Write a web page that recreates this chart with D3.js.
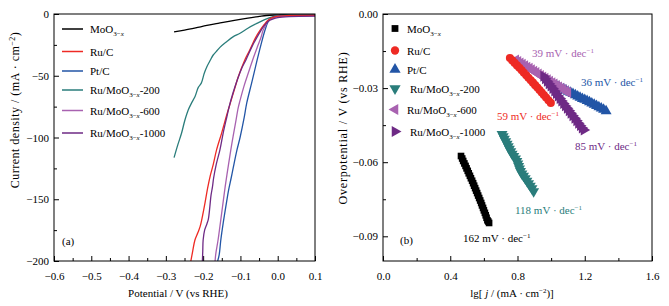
<!DOCTYPE html>
<html><head><meta charset="utf-8">
<script src="https://cdn.jsdelivr.net/npm/d3@7"></script>
<style>
body{margin:0;background:#fff;}
text{font-family:"Liberation Serif","Times New Roman",serif;}
</style></head>
<body><svg id="c" width="669" height="306"></svg>
<script>
// ---------- DATA ----------
// Panel (a): LSV curves, potential (V vs RHE) and current density (mA cm^-2)
const seriesNames = ["MoO3-x", "Ru/C", "Pt/C", "Ru/MoO3-x-200", "Ru/MoO3-x-600", "Ru/MoO3-x-1000"];
const seriesColors = ["#000000", "#ee2a24", "#2255a6", "#2a7d7b", "#a862b0", "#6e2a85"];

const moV = [-0.278,-0.25,-0.22,-0.19,-0.16,-0.12,-0.08,-0.05,-0.03,-0.01,0.02,0.05,0.1];
const moJ = [-14.5,-13.0,-11.2,-9.3,-7.6,-5.3,-3.3,-2.0,-1.2,-0.8,-0.5,-0.4,-0.4];

const rucV = [-0.233,-0.228,-0.222,-0.214,-0.208,-0.202,-0.195,-0.188,-0.181,-0.173,-0.164,-0.150,-0.137,-0.128,-0.115,-0.106,-0.088,-0.074,-0.060,-0.048,-0.036,-0.026,-0.015,0.0,0.03,0.1];
const rucJ = [-200,-192,-183,-177,-172,-164,-153,-141,-131,-122,-110,-96,-82,-73,-60,-51,-37,-28.5,-19.5,-13.5,-8.5,-5,-3,-1.8,-1.2,-1.0];

const ptV = [-0.161,-0.157,-0.153,-0.150,-0.143,-0.137,-0.132,-0.125,-0.119,-0.110,-0.101,-0.090,-0.083,-0.070,-0.055,-0.045,-0.034,-0.026,-0.018,-0.005,0.03,0.1];
const ptJ = [-200,-195,-184,-177,-163,-152,-143,-133,-124,-111,-100,-84,-72,-56,-37,-25,-13,-6.5,-3.5,-1.8,-1.2,-1.0];

const r200V = [-0.278,-0.268,-0.258,-0.249,-0.240,-0.231,-0.222,-0.213,-0.205,-0.197,-0.190,-0.181,-0.173,-0.165,-0.155,-0.137,-0.120,-0.101,-0.080,-0.056,-0.035,-0.012,0.01,0.03,0.06,0.1];
const r200J = [-116.3,-106,-96.6,-86,-77.7,-72,-67,-59.4,-56,-48,-42.7,-37.5,-33.2,-30.5,-27,-22.4,-18.5,-15.6,-11.5,-7.6,-4.5,-2.2,-1.2,-0.7,-0.5,-0.5];

const r600V = [-0.168,-0.166,-0.160,-0.155,-0.148,-0.141,-0.132,-0.123,-0.113,-0.106,-0.101,-0.090,-0.078,-0.067,-0.055,-0.045,-0.039,-0.032,-0.026,-0.015,0.0,0.03,0.1];
const r600J = [-200,-194,-183,-172,-156,-140,-122,-105,-88,-76,-70,-58,-47,-37,-27,-19,-13,-9,-5.5,-3.5,-2.2,-1.6,-1.4];

const r1000V = [-0.202,-0.201,-0.200,-0.196,-0.190,-0.186,-0.182,-0.179,-0.175,-0.172,-0.165,-0.155,-0.146,-0.137,-0.131,-0.120,-0.108,-0.095,-0.085,-0.070,-0.055,-0.040,-0.026,-0.012,0.0,0.03,0.1];
const r1000J = [-200,-192,-183,-175,-170,-166,-156,-147,-140,-133,-122,-110,-96,-84,-76,-64,-53,-43,-37,-27,-18.5,-11,-6,-4,-3,-2.2,-1.8];

// Panel (b): Tafel points, lg[j/(mA cm^-2)] and overpotential (V)
const tMoLg = [0.464,0.471,0.477,0.484,0.491,0.497,0.504,0.510,0.517,0.523,0.530,0.536,0.542,0.548,0.554,0.560,0.566,0.572,0.578,0.584,0.589,0.595,0.600,0.606,0.611,0.616,0.621,0.626,0.631];
const tMoEta = [-0.0575,-0.0585,-0.0595,-0.0605,-0.0615,-0.0625,-0.0635,-0.0645,-0.0655,-0.0665,-0.0675,-0.0685,-0.0695,-0.0705,-0.0715,-0.0725,-0.0735,-0.0745,-0.0755,-0.0765,-0.0775,-0.0785,-0.0795,-0.0805,-0.0815,-0.0825,-0.0835,-0.0840,-0.0846];

const tRucLg = [0.755,0.769,0.783,0.797,0.811,0.825,0.838,0.852,0.865,0.879,0.892,0.905,0.918,0.931,0.944,0.957,0.970,0.984,0.998];
const tRucEta = [-0.0178,-0.0188,-0.0198,-0.0208,-0.0218,-0.0228,-0.0238,-0.0248,-0.0258,-0.0268,-0.0278,-0.0288,-0.0298,-0.0308,-0.0318,-0.0328,-0.0338,-0.0349,-0.0360];

const tPtLg = [0.990,1.004,1.018,1.032,1.046,1.060,1.074,1.088,1.102,1.116,1.130,1.144,1.158,1.172,1.186,1.200,1.214,1.228,1.242,1.256,1.270,1.284,1.298,1.312,1.327];
const tPtEta = [-0.0275,-0.0280,-0.0285,-0.0290,-0.0295,-0.0300,-0.0304,-0.0309,-0.0314,-0.0318,-0.0323,-0.0328,-0.0333,-0.0338,-0.0343,-0.0347,-0.0352,-0.0357,-0.0362,-0.0367,-0.0372,-0.0377,-0.0382,-0.0387,-0.0393];

const t200Lg = [0.708,0.715,0.722,0.730,0.738,0.745,0.752,0.760,0.768,0.778,0.788,0.796,0.802,0.807,0.812,0.818,0.826,0.836,0.846,0.856,0.866,0.876,0.886,0.896];
const t200Eta = [-0.0486,-0.0496,-0.0506,-0.0516,-0.0526,-0.0536,-0.0546,-0.0556,-0.0566,-0.0576,-0.0586,-0.0596,-0.0606,-0.0616,-0.0626,-0.0636,-0.0646,-0.0656,-0.0666,-0.0676,-0.0686,-0.0696,-0.0706,-0.0718];

const t600Lg = [0.790,0.803,0.817,0.830,0.844,0.857,0.871,0.884,0.898,0.911,0.925,0.938,0.952,0.965,0.979,0.992,1.006,1.019,1.033,1.046,1.060,1.073,1.087,1.100];
const t600Eta = [-0.0186,-0.0192,-0.0198,-0.0203,-0.0209,-0.0215,-0.0220,-0.0226,-0.0232,-0.0237,-0.0243,-0.0249,-0.0255,-0.0260,-0.0266,-0.0272,-0.0278,-0.0283,-0.0289,-0.0295,-0.0301,-0.0306,-0.0312,-0.0318];

const t1000Lg = [0.955,0.965,0.976,0.987,0.998,1.009,1.020,1.030,1.041,1.052,1.062,1.073,1.084,1.095,1.106,1.117,1.128,1.140,1.151,1.162,1.173,1.184,1.195];
const t1000Eta = [-0.0252,-0.0262,-0.0272,-0.0282,-0.0292,-0.0302,-0.0312,-0.0322,-0.0332,-0.0342,-0.0352,-0.0362,-0.0372,-0.0382,-0.0392,-0.0402,-0.0412,-0.0422,-0.0432,-0.0442,-0.0452,-0.0462,-0.0470];

const slopeLabels = ["162", "59", "36", "118", "39", "85"];

const xTicksA = [-0.6,-0.5,-0.4,-0.3,-0.2,-0.1,0.0,0.1];
const yTicksA = [-200,-150,-100,-50,0];
const xTicksB = [0.0,0.4,0.8,1.2,1.6];
const yTicksB = [-0.09,-0.06,-0.03,0.00];

// ---------- DRAW ----------
const svg = d3.select("#c");
const FS = 11;

const xA = d3.scaleLinear([-0.6,0.1],[54,315]);
const yA = d3.scaleLinear([-200,0],[261,14]);
const xB = d3.scaleLinear([0,1.6],[383,652]);
const yB = d3.scaleLinear([-0.10,0],[261,14]);

function drawAxes(x, y, xt, yt, xMinor, yMinor, xf, yf){
  svg.append("g").attr("transform",`translate(0,${y.range()[0]})`)
    .call(d3.axisBottom(x).tickValues(xt).tickFormat(xf).tickSize(-5).tickPadding(11));
  svg.append("g").attr("transform",`translate(0,${y.range()[0]})`)
    .call(d3.axisBottom(x).tickValues(xMinor).tickFormat("").tickSize(-3));
  svg.append("g").attr("transform",`translate(${x.range()[0]},0)`)
    .call(d3.axisLeft(y).tickValues(yt).tickFormat(yf).tickSize(-5).tickPadding(5));
  svg.append("g").attr("transform",`translate(${x.range()[0]},0)`)
    .call(d3.axisLeft(y).tickValues(yMinor).tickFormat("").tickSize(-3));
  svg.selectAll(".domain").remove();
  svg.selectAll(".tick text").attr("font-size",FS).attr("font-family","Liberation Serif").attr("fill","#000");
  svg.selectAll(".tick line").attr("stroke","#000");
}

// Panel a
drawAxes(xA, yA, xTicksA, yTicksA, [-0.55,-0.45,-0.35,-0.25,-0.15,-0.05,0.05],
  [-175,-125,-75,-25], d3.format(".1f"), d3.format("d"));
// Panel b
drawAxes(xB, yB, xTicksB, yTicksB, [0.2,0.6,1.0,1.4],
  [-0.075,-0.045,-0.015], d3.format(".1f"), d3.format(".2f"));

// clip for panel a
svg.append("clipPath").attr("id","clipA").append("rect")
  .attr("x",54).attr("y",14).attr("width",261).attr("height",247);

const curves = [[moV,moJ],[rucV,rucJ],[ptV,ptJ],[r200V,r200J],[r600V,r600J],[r1000V,r1000J]];
const line = d3.line().x(d=>xA(d[0])).y(d=>yA(d[1])).curve(d3.curveCatmullRom);
const drawOrderA = [0,3,2,4,1,5];
drawOrderA.forEach(i=>{
  const pts = curves[i][0].map((v,k)=>[v,curves[i][1][k]]);
  svg.append("path").attr("d",line(pts)).attr("fill","none")
    .attr("stroke",seriesColors[i]).attr("stroke-width",1.3).attr("clip-path","url(#clipA)");
});

// Tafel markers
const tafel = [[tMoLg,tMoEta],[tRucLg,tRucEta],[tPtLg,tPtEta],[t200Lg,t200Eta],[t600Lg,t600Eta],[t1000Lg,t1000Eta]];
const symTypes = [d3.symbolSquare, d3.symbolCircle, d3.symbolTriangle, d3.symbolTriangle, d3.symbolTriangle, d3.symbolTriangle];
const symRot = [0,0,0,180,-90,90];
const symSize = [44,52,52,52,52,52];
function marker(g, i, cx, cy, scale){
  g.append("path").attr("d", d3.symbol(symTypes[i], symSize[i]*(scale||1))())
    .attr("transform",`translate(${cx},${cy}) rotate(${symRot[i]})`)
    .attr("fill",seriesColors[i]);
}
const drawOrderB = [0,2,3,4,5,1];
const gB = svg.append("g");
drawOrderB.forEach(i=>{
  tafel[i][0].forEach((lg,k)=>marker(gB, i, xB(lg), yB(tafel[i][1][k])));
});

// frames
[[xA,yA],[xB,yB]].forEach(([x,y])=>{
  svg.append("rect").attr("x",x.range()[0]).attr("y",y.range()[1])
    .attr("width",x.range()[1]-x.range()[0]).attr("height",y.range()[0]-y.range()[1])
    .attr("fill","none").attr("stroke","#000").attr("stroke-width",1);
});

// legend label helper
function legendText(g, x, y, i, color){
  const t = g.append("text").attr("x",x).attr("y",y).attr("font-size",FS).attr("fill",color||"#000");
  const name = seriesNames[i];
  if(name.indexOf("MoO3-x")>=0){
    const pre = name.split("MoO3-x")[0];
    const post = name.split("MoO3-x")[1];
    t.append("tspan").text(pre+"MoO");
    t.append("tspan").attr("dy",3).attr("font-size",7).text("3−");
    t.append("tspan").attr("font-size",7).attr("font-style","italic").text("x");
    t.append("tspan").attr("dy",-3).text(post);
  } else t.text(name);
}

// Legend a
const legA = [29,51.5,71,90,110.5,133];
legA.forEach((yy,i)=>{
  svg.append("line").attr("x1",62).attr("x2",83).attr("y1",yy).attr("y2",yy)
    .attr("stroke",seriesColors[i]).attr("stroke-width",1.5);
  legendText(svg, 90, yy+4, i);
});
// Legend b
const legB = [28.5,50.5,69.5,88.5,109.5,131.5];
const legBx = [407,407,407,410,407,410];
legB.forEach((yy,i)=>{
  marker(svg, i, 395, yy, 1.05);
  legendText(svg, legBx[i], yy+4, i);
});

// slope labels
const slopePos = [[463,242],[497,120],[581,85.5],[515,214],[532,56.5],[575,149.5]];
slopeLabels.forEach((s,i)=>{
  const t = svg.append("text").attr("x",slopePos[i][0]).attr("y",slopePos[i][1])
    .attr("font-size",FS).attr("fill",seriesColors[i]);
  t.append("tspan").text(s+" mV · dec");
  t.append("tspan").attr("dy",-4).attr("font-size",7).text("−1");
});

// panel tags
svg.append("text").attr("x",62).attr("y",245).attr("font-size",FS).text("(a)");
svg.append("text").attr("x",400).attr("y",244).attr("font-size",FS).text("(b)");

// axis titles
svg.append("text").attr("x",178).attr("y",297).attr("text-anchor","middle").attr("font-size",FS)
  .text("Potential / V (vs RHE)");
const yt = svg.append("text").attr("transform","translate(19,110) rotate(-90)")
  .attr("text-anchor","middle").attr("font-size",12).attr("letter-spacing",0.5);
yt.append("tspan").text("Current density / (mA · cm");
yt.append("tspan").attr("dy",-4).attr("font-size",8).text("−2");
yt.append("tspan").attr("dy",4).text(")");

const xtB = svg.append("text").attr("x",512).attr("y",297).attr("text-anchor","middle").attr("font-size",FS);
xtB.append("tspan").text("lg[");
xtB.append("tspan").attr("font-style","italic").text(" j");
xtB.append("tspan").text(" / (mA · cm");
xtB.append("tspan").attr("dy",-4).attr("font-size",7).text("−2");
xtB.append("tspan").attr("dy",4).text(")]");

svg.append("text").attr("transform","translate(347,128) rotate(-90)")
  .attr("text-anchor","middle").attr("font-size",12).attr("letter-spacing",0.8)
  .text("Overpotential / V (vs RHE)");
</script></body></html>
